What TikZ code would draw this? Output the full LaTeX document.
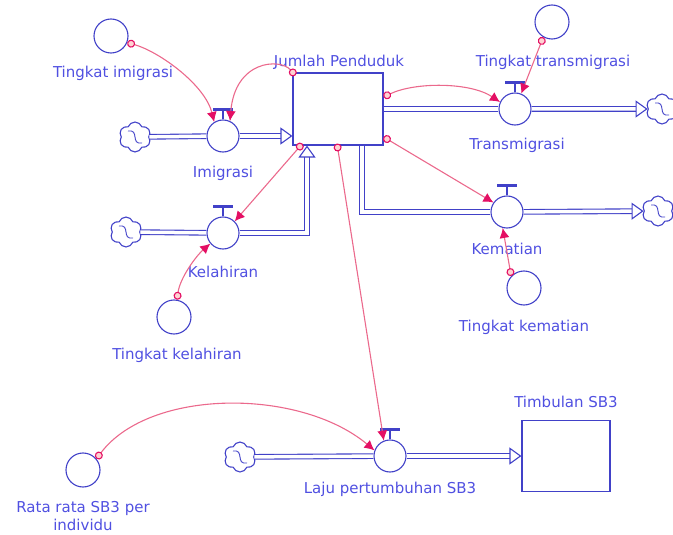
\documentclass[tikz,border=0pt]{standalone}
\usepackage{fontspec}
\setmainfont{DejaVu Sans}
\usetikzlibrary{arrows.meta,shapes.symbols}

\definecolor{flowblue}{RGB}{65,65,200}
\definecolor{txtblue}{RGB}{80,80,225}
\definecolor{linkpink}{RGB}{235,105,140}
\definecolor{tippink}{RGB}{228,15,100}

\tikzset{
  lbl/.style={text=txtblue, font=\fontsize{15}{18}\selectfont, inner sep=0pt},
  stock/.style={draw=flowblue, line width=1.1pt, minimum width=90pt, minimum height=72pt, inner sep=0pt},
  valve/.style={circle, draw=flowblue, fill=white, line width=1.1pt, minimum size=32pt, inner sep=0pt},
  conv/.style={circle, draw=flowblue, line width=1.1pt, minimum size=34pt, inner sep=0pt},
  source/.style={cloud, cloud puffs=6, cloud puff arc=140, aspect=1, draw=flowblue, line width=1.1pt,
    minimum width=32pt, minimum height=30pt, inner sep=0pt,
    path picture={\draw [flowblue, line width=0.9pt] ([shift={(-7,-6)}]path picture bounding box.center)
      .. controls +(12,-2) and +(-12,2) .. ([shift={(7,6)}]path picture bounding box.center);}},
  pipe/.style={draw=flowblue, line width=1.1pt, double=white, double distance=3.5pt},
  pipeto/.style={pipe, -{Triangle[open, length=12pt, width=17pt]}},
  link/.style={draw=linkpink, line width=1.1pt, {Circle[length=8pt, color=tippink, fill=pink!70]}-{Latex[length=10pt, width=10pt, color=tippink]}},
}

\begin{document}
\begin{tikzpicture}[x=1pt,y=-1pt]
\useasboundingbox (0,0) rectangle (673,535);

\node [stock] (jp) at (338,109) {};
\node [stock, minimum width=88pt, minimum height=71pt] (sb) at (566,456) {};

\node [valve] (imig) at (223,136) {};
\node [valve] (lahir) at (223,233) {};
\node [valve] (trans) at (515,109) {};
\node [valve] (mati) at (507,212) {};
\node [valve] (laju) at (390,456) {};

\node [conv] (ti) at (111,36) {};
\node [conv] (tt) at (552,22) {};
\node [conv] (tk) at (524,288) {};
\node [conv] (tl) at (174,317) {};
\node [conv] (rr) at (83,470) {};

\node [source] (s1) at (135,137) {};
\node [source] (s2) at (126,232) {};
\node [source] (s3) at (240,457) {};
\node [source] (s4) at (662,109) {};
\node [source] (s5) at (658,211) {};

\node [lbl] (ljp) at (339,62) {Jumlah Penduduk};
\node [lbl] (lsb) at (566,402) {Timbulan SB3};
\node [lbl] (limig) at (223,173) {Imigrasi};
\node [lbl] (llahir) at (223,272) {Kelahiran};
\node [lbl] (ltrans) at (517,145) {Transmigrasi};
\node [lbl] (lmati) at (507,249) {Kematian};
\node [lbl] (llaju) at (390,489) {Laju pertumbuhan SB3};
\node [lbl] (lti) at (113,73) {Tingkat imigrasi};
\node [lbl] (ltt) at (553,62) {Tingkat transmigrasi};
\node [lbl] (ltk) at (524,327) {Tingkat kematian};
\node [lbl] (ltl) at (177,355) {Tingkat kelahiran};
\node [lbl, align=center] (lrr) at (83,516) {Rata rata SB3 per\\individu};

\draw [pipe] (s1) -- (imig);
\draw [pipeto] (imig) -- (imig -| jp.west);
\draw [pipe] (s2) -- (lahir);
\draw [pipeto] (lahir) -| ([shift={(-31,0)}]jp.south);
\draw [pipe] (jp) -- (trans);
\draw [pipeto] (trans) -- (s4);
\draw [pipe] ([shift={(24,0)}]jp.south) |- (mati);
\draw [pipeto] (mati) -- (s5);
\draw [pipe] (s3) -- (laju);
\draw [pipeto] (laju) -- (sb);

\foreach \v in {imig,lahir,trans,mati,laju} {
  \draw [flowblue, line width=1.1pt] (\v.north) -- ++(0,-9);
  \draw [flowblue, line width=2.2pt] ([shift={(-10,-10)}]\v.north) -- ++(20,0);
}

\draw [link] (ti.-22) .. controls (160,52) and (205,85) .. (imig.122);
\draw [link] ([shift={(3,3)}]jp.north west) .. controls (280,58) and (235,60) .. (imig.65);
\draw [link] ([shift={(0,-12)}]jp.east) .. controls (415,82) and (470,82) .. (trans.155);
\draw [link] (tt.240) -- (trans.68);
\draw [link] ([shift={(0,28)}]jp.east) -- (mati.145);
\draw [link] (tk.137) -- (mati.255);
\draw [link] ([shift={(10,-2)}]jp.south west) -- (lahir.45);
\draw [link] (tl.80) .. controls (180,278) and (196,256) .. (lahir.220);
\draw [link] ([shift={(-1,-2)}]jp.south) -- (laju.112);
\draw [link] (rr.40) .. controls (150,388) and (300,388) .. (laju.160);

\end{tikzpicture}
\end{document}
